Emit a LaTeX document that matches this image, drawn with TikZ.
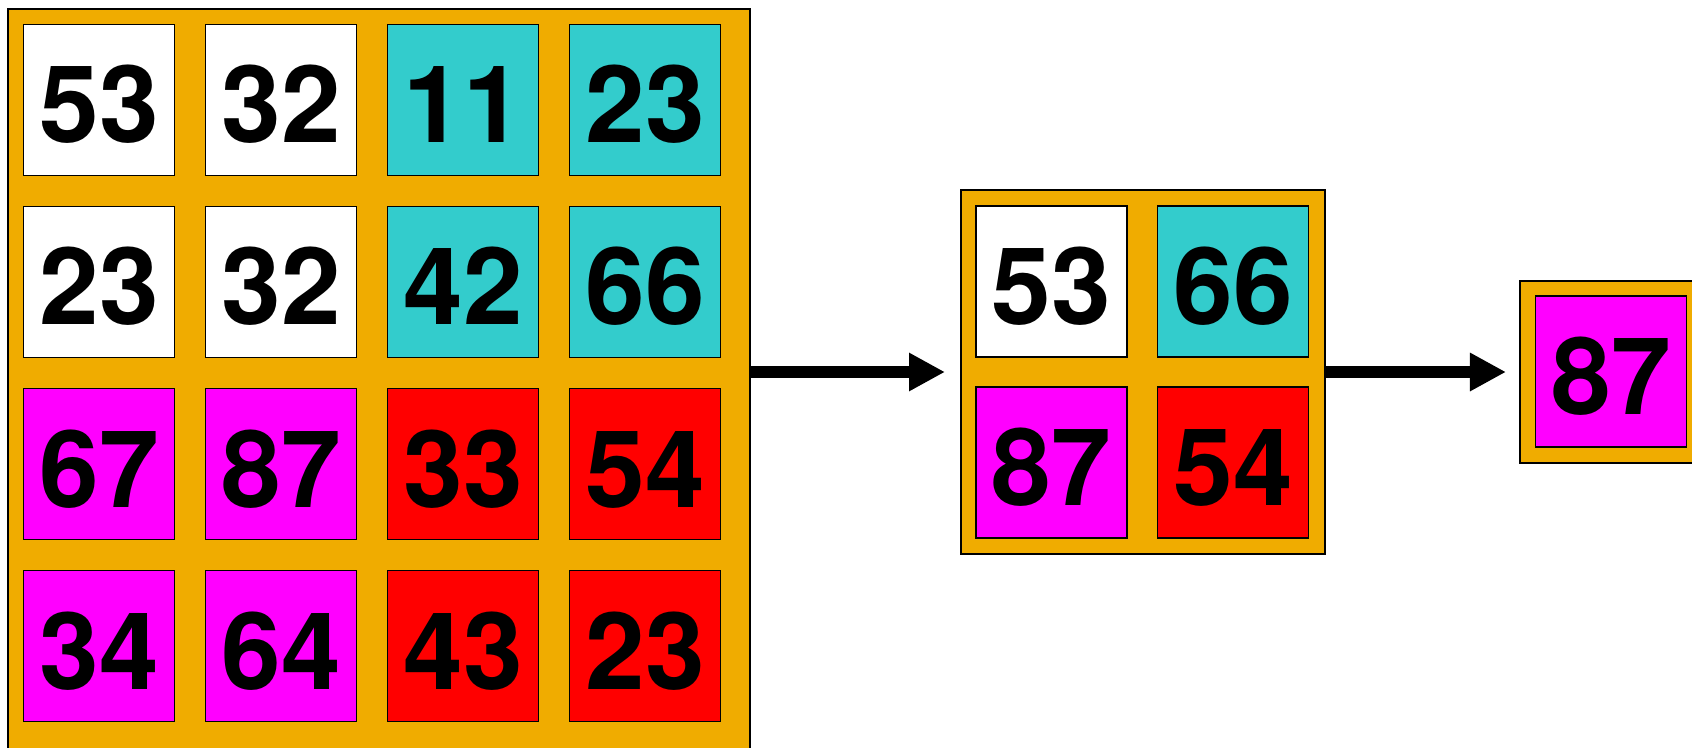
\documentclass[tikz,border=0pt]{standalone}
\usepackage{fontspec}
\setmainfont{TeX Gyre Heros}
\usetikzlibrary{arrows.meta}
\definecolor{poolgold}{HTML}{F0AC00}
\definecolor{poolcyan}{HTML}{33CCCC}
\definecolor{poolpink}{HTML}{FF00FF}
\definecolor{poolred}{HTML}{FF0000}
\newcommand{\poolframe}[4]{%
  \node[draw=black, line width=1.2pt, fill=poolgold, inner sep=0pt,
        minimum width=#4, minimum height=#4] (#1) at (#2,#3) {};}
\newcommand{\poolcell}[5]{%
  \node[draw=black, line width=0.9pt, fill=#4, inner sep=0pt,
        minimum size=3.02cm, text height=1.72cm, text depth=0pt,
        font=\bfseries\fontsize{61}{70}\selectfont] (#1) at (#2,#3) {#5};}

\begin{document}
\begin{tikzpicture}[x=0.02cm, y=-0.02cm]
      \useasboundingbox (0,0) rectangle (1692,747);
      \clip (0,0) rectangle (1692,747);
      % input feature map
      \poolframe{big}{379}{380}{14.84cm}
      \poolcell{a11}{99}{100}{white}{53}
      \poolcell{a12}{281}{100}{white}{32}
      \poolcell{a13}{463}{100}{poolcyan}{11}
      \poolcell{a14}{645}{100}{poolcyan}{23}
      \poolcell{a21}{99}{282}{white}{23}
      \poolcell{a22}{281}{282}{white}{32}
      \poolcell{a23}{463}{282}{poolcyan}{42}
      \poolcell{a24}{645}{282}{poolcyan}{66}
      \poolcell{a31}{99}{464}{poolpink}{67}
      \poolcell{a32}{281}{464}{poolpink}{87}
      \poolcell{a33}{463}{464}{poolred}{33}
      \poolcell{a34}{645}{464}{poolred}{54}
      \poolcell{a41}{99}{646}{poolpink}{34}
      \poolcell{a42}{281}{646}{poolpink}{64}
      \poolcell{a43}{463}{646}{poolred}{43}
      \poolcell{a44}{645}{646}{poolred}{23}
      % after max pooling
      \poolframe{mid}{1143}{372}{7.28cm}
      \poolcell{m11}{1051.5}{281.5}{white}{53}
      \poolcell{m12}{1233}{281.5}{poolcyan}{66}
      \poolcell{m21}{1051.5}{462.5}{poolpink}{87}
      \poolcell{m22}{1233}{462.5}{poolred}{54}
      % global max
      \poolframe{small}{1611}{372}{3.64cm}
      \poolcell{s11}{1611}{371.5}{poolpink}{87}
      \draw[-{Triangle[length=0.72cm, width=0.72cm]}, line width=0.24cm,
            shorten >=0.3cm] (big.east |- mid.west) -- (mid.west);
      \draw[-{Triangle[length=0.72cm, width=0.72cm]}, line width=0.24cm,
            shorten >=0.26cm] (mid.east) -- (small.west);
    \end{tikzpicture}
\end{document}
